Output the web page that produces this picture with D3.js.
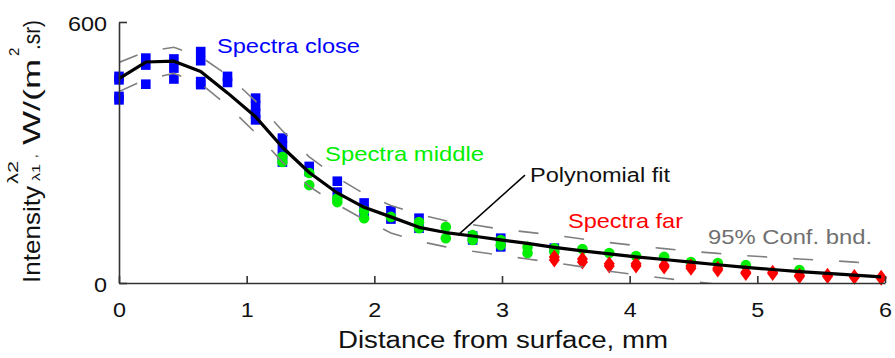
<!DOCTYPE html>
<html><head><meta charset="utf-8">
<script src="https://cdn.jsdelivr.net/npm/d3@7"></script>
<style>body{margin:0;background:#fff}svg{display:block}text{font-family:"Liberation Sans",Arial,Helvetica,sans-serif}</style>
</head><body><svg id="c" width="895" height="358"></svg>
<script>
// ---- data ----
const xTicks = [0,1,2,3,4,5,6];
const yTicks = [0,600];
const posX = [0,0.21,0.43,0.64,0.85,1.07,1.28,1.49,1.71,1.92,2.13,2.35,2.56,2.77,2.99,3.2,3.41,3.63,3.84,4.05,4.27,4.48,4.69,4.91,5.12,5.33,5.55,5.76,5.97];
const spectraClose = [
 [0,475],[0,467],[0,429],[0,421],
 [0.21,517],[0.21,501],[0.21,457],
 [0.43,515],[0.43,494],[0.43,469],
 [0.64,532],[0.64,511],[0.64,463],[0.64,456],
 [0.85,475],[0.85,461],
 [1.07,425],[1.07,407],[1.07,389],[1.07,375],
 [1.28,333],[1.28,315],[1.28,294],[1.28,278],
 [1.49,268],[1.49,256],
 [1.71,234],[1.71,209],
 [1.92,184],[1.92,163],
 [2.13,166],[2.13,147],
 [2.35,149],[2.35,126],
 [2.77,108],[2.77,99],
 [2.99,103],[2.99,83],
 [3.41,80]
];
const spectraMiddle = [
 [1.28,290],[1.28,278],[1.49,253],[1.49,225],[1.71,195],[1.71,186],[1.92,166],[1.92,149],
 [2.13,152],[2.35,140],[2.35,126],[2.56,129],[2.56,103],[2.77,110],[2.77,99],[2.99,99],[2.99,87],
 [3.2,83],[3.2,69],[3.41,80],[3.41,71],[3.63,78],[3.84,69],[4.05,62],[4.27,60],[4.48,48],
 [4.69,46],[4.91,41],[5.33,30]
];
const spectraFar = [
 [3.41,60],[3.41,53],[3.63,55],[3.63,48],[3.84,44],[3.84,39],[4.05,44],[4.05,39],
 [4.27,41],[4.27,37],[4.48,39],[4.48,34],[4.69,34],[4.69,30],[4.91,25],[4.91,22],
 [5.12,25],[5.12,22],[5.33,18],[5.33,15],[5.55,18],[5.55,15],[5.76,15],[5.76,13],[5.97,13],[5.97,11]
];
const fitY   = [470,508,510,486,437,382,312,254,207,174,152,128,116,108,99,91,82,74,67,60,54,48,42,36,31,26,22,18,14];
const upperY = [507,532,542,520,478,418,350,290,242,205,178,158,143,134,124,117,110,101,93,86,79,73,68,63,59,55,52,48,44];
const lowerY = [440,468,482,458,408,345,278,222,180,146,115,96,83,73,64,55,47,37,27,19,11,4,-3,-10,-16,-22,-28,-34,-40];
const leader = [[3.18,248],[2.655,110]];

// ---- drawing ----
const svg = d3.select("#c");
const x = d3.scaleLinear().domain([0,6]).range([119,885]);
const y = d3.scaleLinear().domain([0,600]).range([283,22]);

svg.append("defs").append("clipPath").attr("id","clip")
  .append("rect").attr("x",x(0)).attr("y",0).attr("width",x(6)-x(0)+10).attr("height",y(0));

// markers
svg.append("g").selectAll("rect").data(spectraClose).join("rect")
  .attr("x",d=>x(d[0])-4.8).attr("y",d=>y(d[1])-4.8).attr("width",9.6).attr("height",9.6)
  .attr("fill","#0000ff");
svg.append("g").selectAll("circle").data(spectraMiddle).join("circle")
  .attr("cx",d=>x(d[0])).attr("cy",d=>y(d[1])).attr("r",5.3).attr("fill","#00ee00");
const diamond = d=>{const cx=x(d[0]),cy=y(d[1]);return `M${cx},${cy-7.5}L${cx+5.5},${cy}L${cx},${cy+7.5}L${cx-5.5},${cy}Z`;};
svg.append("g").selectAll("path").data(spectraFar).join("path").attr("d",diamond).attr("fill","#ff0000");

// lines
const line = d3.line().x(d=>x(d[0])).y(d=>y(d[1]));
const fitPts = posX.map((v,i)=>[v,fitY[i]]);
const upPts = posX.map((v,i)=>[v,upperY[i]]);
const loPts = posX.map((v,i)=>[v,lowerY[i]]);
const lg = svg.append("g").attr("clip-path","url(#clip)");
[upPts,loPts].forEach(p=>lg.append("path").attr("d",line(p)).attr("fill","none")
  .attr("stroke","#7f7f7f").attr("stroke-width",1.6).attr("stroke-dasharray","20,26"));
svg.append("path").attr("d",line(fitPts)).attr("fill","none").attr("stroke","#000")
  .attr("stroke-width",3.2).attr("stroke-linejoin","round");
svg.append("path").attr("d",line(leader)).attr("stroke","#000").attr("stroke-width",1.5);

// axes
const fam = '"Liberation Sans",Arial,sans-serif';
const xa = svg.append("g").attr("transform",`translate(0,${y(0)})`)
  .call(d3.axisBottom(x).tickValues(xTicks).tickSizeInner(-7).tickSizeOuter(0).tickPadding(20).tickFormat(d3.format("d")));
const ya = svg.append("g").attr("transform",`translate(${x(0)},0)`)
  .call(d3.axisLeft(y).tickValues(yTicks).tickSizeInner(-8).tickSizeOuter(0).tickPadding(12).tickFormat(d3.format("d")));
[xa,ya].forEach(a=>{
  a.select(".domain").attr("stroke","#333").attr("stroke-width",1.6);
  a.selectAll(".tick line").attr("stroke","#333").attr("stroke-width",1.6);
  a.selectAll(".tick text").attr("font-size",20).attr("font-family",fam).attr("fill","#111")
    .attr("textLength",d=>String(d).length*13).attr("lengthAdjust","spacingAndGlyphs");
});
ya.selectAll(".tick text").attr("dy","0.42em");

// axis titles
svg.append("text").attr("x",503).attr("y",348).attr("text-anchor","middle").attr("font-size",23)
  .attr("fill","#111").attr("textLength",330).attr("lengthAdjust","spacingAndGlyphs").text("Distance from surface, mm");
const yt = svg.append("g").attr("transform","translate(40,283) rotate(-90)").attr("fill","#111");
const pieces = [
  {t:"Intensity",u:0,v:0,s:24,L:97},
  {t:"λ2",u:99,v:-22,s:15,L:23},
  {t:"λ1",u:102,v:0,s:11,L:17},
  {t:",",u:125,v:-3,s:13},
  {t:"W/(m",u:138,v:0,s:24,L:86},
  {t:"2",u:227,v:-21,s:15},
  {t:".sr)",u:233,v:0,s:24,L:30}
];
pieces.forEach(p=>{const e=yt.append("text").attr("x",p.u).attr("y",p.v).attr("font-size",p.s).text(p.t);
  if(p.L) e.attr("textLength",p.L).attr("lengthAdjust","spacingAndGlyphs");});

// labels
const labels = [
  {t:"Spectra close",x:217,y:53,s:21,L:143,c:"#0000ff"},
  {t:"Spectra middle",x:325,y:161,s:21,L:159,c:"#00ee00"},
  {t:"Polynomial fit",x:530,y:182,s:20,L:140,c:"#111"},
  {t:"Spectra far",x:568,y:228,s:21,L:115,c:"#ff0000"},
  {t:"95% Conf. bnd.",x:708,y:244,s:21,L:164,c:"#707070"}
];
svg.append("g").selectAll("text").data(labels).join("text")
  .attr("x",d=>d.x).attr("y",d=>d.y).attr("font-size",d=>d.s).attr("fill",d=>d.c)
  .attr("textLength",d=>d.L).attr("lengthAdjust","spacingAndGlyphs").text(d=>d.t);
</script></body></html>
